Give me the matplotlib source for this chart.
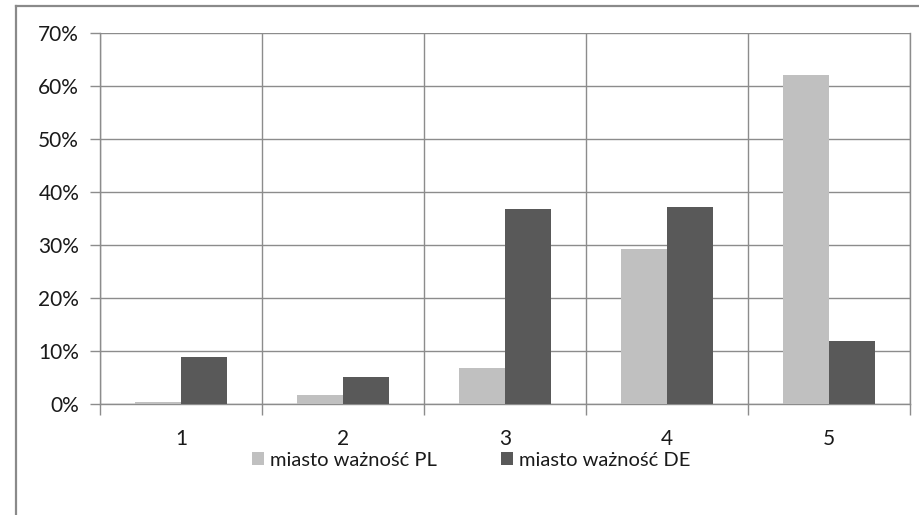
import matplotlib.pyplot as plt
import numpy as np
from matplotlib.lines import Line2D
from matplotlib.ticker import FixedLocator, PercentFormatter

plt.rcParams['font.family'] = ['Lato', 'DejaVu Sans']

categories = ["1", "2", "3", "4", "5"]
pl_values = [0.3, 1.7, 6.8, 29.2, 62.1]
de_values = [8.8, 5.1, 36.8, 37.2, 11.9]
series_names = ["miasto ważność PL", "miasto ważność DE"]

grid_color = "#8c8c8c"
text_color = "#1a1a1a"

fig = plt.figure(figsize=(9.19, 5.15), dpi=100)
ax = fig.add_axes([100 / 919, 1 - 404 / 515, 810 / 919, 371 / 515])

x = np.arange(len(categories))
w = 0.284
ax.bar(x - w / 2, pl_values, w, color="#c0c0c0", label=series_names[0], zorder=3)
ax.bar(x + w / 2, de_values, w, color="#595959", label=series_names[1], zorder=3)

ax.set_xlim(-0.5, len(categories) - 0.5)
ax.set_ylim(0, 70)
ax.set_yticks(np.arange(0, 71, 10))
ax.yaxis.set_major_formatter(PercentFormatter(decimals=0))
ax.set_xticks(x)
ax.set_xticklabels(categories)
ax.xaxis.set_minor_locator(FixedLocator(np.arange(-0.5, len(categories), 1)))

ax.tick_params(axis="x", which="major", length=0, pad=18, labelsize=15, labelcolor=text_color)
ax.tick_params(axis="x", which="minor", length=8, color=grid_color, width=1)
ax.tick_params(axis="y", length=7, color=grid_color, width=1, pad=8, labelsize=15, labelcolor=text_color)

ax.grid(axis="y", color=grid_color, linewidth=1, zorder=0)
ax.grid(axis="x", which="minor", color=grid_color, linewidth=1, zorder=0)
for side in ["left", "right", "bottom"]:
    ax.spines[side].set_color(grid_color)
    ax.spines[side].set_linewidth(1)
ax.spines["top"].set_visible(False)

ax.legend(loc="center", bbox_to_anchor=(471 / 919, 1 - 460 / 515), bbox_transform=fig.transFigure,
          ncol=2, frameon=False, fontsize=14.5, handlelength=0.6, handleheight=0.6,
          handletextpad=0.3, columnspacing=3.2, labelcolor=text_color)

# outer chart frame (cropped screenshot)
fig.add_artist(Line2D([16 / 919, 16 / 919], [0, 1 - 6 / 515], transform=fig.transFigure,
                      color="#8a8a8a", linewidth=1.6))
fig.add_artist(Line2D([16 / 919, 1], [1 - 6 / 515, 1 - 6 / 515], transform=fig.transFigure,
                      color="#8a8a8a", linewidth=1.6))

fig.savefig("out.png", dpi=100)
